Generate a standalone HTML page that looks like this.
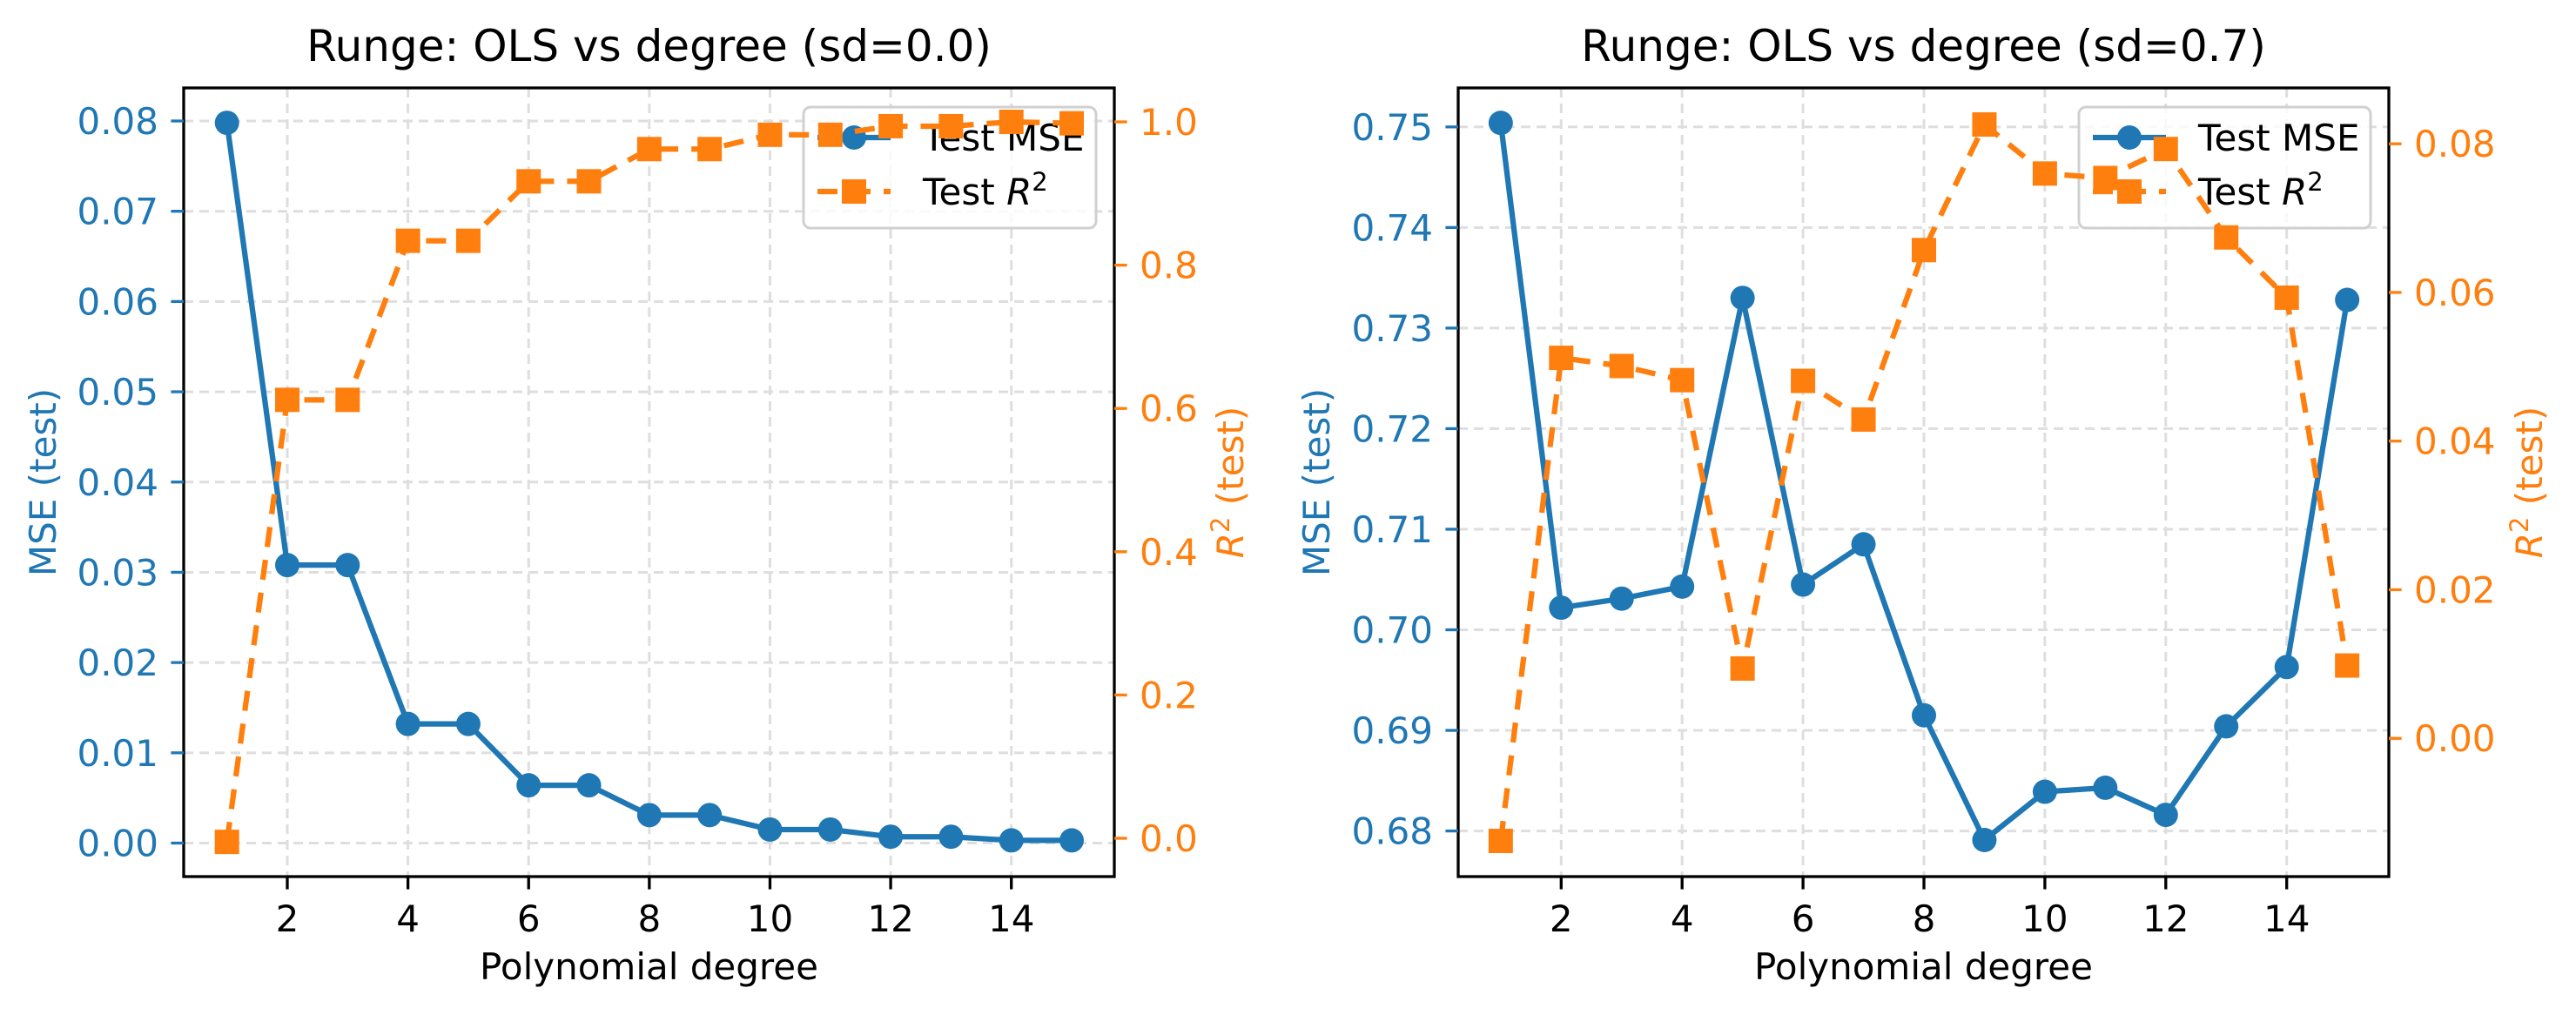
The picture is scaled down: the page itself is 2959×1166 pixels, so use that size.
<!DOCTYPE html>
<html><head><meta charset="utf-8"><style>
html,body{margin:0;padding:0;background:#fff;}
svg{display:block;font-family:"DejaVu Sans","Liberation Sans",sans-serif;}
</style></head><body>
<svg id="fig" width="2959" height="1166" viewBox="0 0 2959 1166" xmlns="http://www.w3.org/2000/svg">
<rect x="0" y="0" width="2959" height="1166" fill="#fff"/>
</svg>
<script>
const degrees = [1,2,3,4,5,6,7,8,9,10,11,12,13,14,15];
const xTicks = [2,4,6,8,10,12,14];
const mseLeft = [0.0798,0.0308,0.0308,0.0132,0.0132,0.0064,0.0064,0.0031,0.0031,0.0015,0.0015,0.0007,0.0007,0.0003,0.0003];
const r2Left = [-0.005,0.612,0.612,0.834,0.834,0.917,0.917,0.962,0.962,0.982,0.982,0.994,0.994,1.000,0.998];
const mseRight = [0.7504,0.7022,0.7031,0.7043,0.7330,0.7045,0.7085,0.6915,0.6791,0.6839,0.6843,0.6816,0.6904,0.6963,0.7328];
const r2Right = [-0.0138,0.0512,0.0501,0.0482,0.0094,0.0481,0.0429,0.0657,0.0826,0.0760,0.0754,0.0793,0.0674,0.0593,0.0098];
const mseTicksLeft = [0.00,0.01,0.02,0.03,0.04,0.05,0.06,0.07,0.08];
const r2TicksLeft = [0.0,0.2,0.4,0.6,0.8,1.0];
const mseTicksRight = [0.68,0.69,0.70,0.71,0.72,0.73,0.74,0.75];
const r2TicksRight = [0.00,0.02,0.04,0.06,0.08];

const NS = "http://www.w3.org/2000/svg";
const svg = document.getElementById('fig');
const BLUE = "#1f77b4", ORANGE = "#ff7f0e";
function mk(tag, attrs, parent){
  const e = document.createElementNS(NS, tag);
  for (const k in attrs) e.setAttribute(k, attrs[k]);
  (parent||svg).appendChild(e);
  return e;
}
function lin(d0,d1,p0,p1){ return v => p0 + (v-d0)/(d1-d0)*(p1-p0); }

function panel(cfg){
  const g = mk('g', {});
  
  
  const L=cfg.left, R=cfg.right, T=101, B=1007;
  const x = lin(2,14,cfg.x2,cfg.x14);
  const yM = lin(cfg.mA,cfg.mB,cfg.mAy,cfg.mBy);
  const yR = lin(cfg.rA,cfg.rB,cfg.rAy,cfg.rBy);
  const grid = mk('g', {}, g);
  
  
  xTicks.forEach(t=>{
    const l = mk('line',{x1:x(t),x2:x(t),y1:T,y2:B,stroke:"#dedede","stroke-width":3,"stroke-dasharray":"11 7"},grid);
    
    
  });
  cfg.mTicks.forEach(t=>{
    const l = mk('line',{x1:L,x2:R,y1:yM(t),y2:yM(t),stroke:"#dedede","stroke-width":3,"stroke-dasharray":"11 7"},grid);
    
    
  });
  const ms = mk('g', {}, g);
  
  
  mk('polyline',{points:degrees.map((d,i)=>x(d)+','+yM(cfg.mse[i])).join(' '),fill:"none",stroke:BLUE,"stroke-width":6.25,"stroke-linejoin":"round"},ms);
  degrees.forEach((d,i)=>{
    const c = mk('circle',{cx:x(d),cy:yM(cfg.mse[i]),r:14,fill:BLUE},ms);
    
    
  });
  const lg = mk('g', {}, g);
  
  
  const lx = cfg.legX;
  mk('rect',{x:lx,y:123,width:cfg.legW,height:139,rx:8,fill:"#fff","fill-opacity":0.8,stroke:"#d0d0d0","stroke-width":3},lg);
  const e1 = mk('g',{},lg);
  
  
  mk('line',{x1:lx+16,x2:lx+100,y1:158,y2:158,stroke:BLUE,"stroke-width":6.25},e1);
  mk('circle',{cx:lx+58,cy:158,r:14,fill:BLUE},e1);
  const t1 = mk('text',{x:lx+137,y:173,"font-size":42,fill:"#000"},e1); t1.textContent="Test MSE";
  const e2 = mk('g',{},lg);
  
  
  mk('line',{x1:lx+16,x2:lx+100,y1:220,y2:220,stroke:ORANGE,"stroke-width":6.25,"stroke-dasharray":"23 15"},e2);
  mk('rect',{x:lx+44,y:206,width:28,height:28,fill:ORANGE},e2);
  const t2 = mk('text',{x:lx+137,y:235,"font-size":42,fill:"#000"},e2);
  t2.innerHTML='Test <tspan font-style="italic">R</tspan><tspan font-size="29" dy="-16">2</tspan>';
  const rs = mk('g', {}, g);
  
  
  mk('polyline',{points:degrees.map((d,i)=>x(d)+','+yR(cfg.r2[i])).join(' '),fill:"none",stroke:ORANGE,"stroke-width":6.25,"stroke-dasharray":"23 15"},rs);
  degrees.forEach((d,i)=>{
    const s = mk('rect',{x:x(d)-14,y:yR(cfg.r2[i])-14,width:28,height:28,fill:ORANGE},rs);
    
    
  });
  const sp = mk('rect',{x:L,y:T,width:R-L,height:B-T,fill:"none",stroke:"#000","stroke-width":3.3},g);
  
  
  const xt = mk('g',{},g);
  
  
  xTicks.forEach(t=>{
    mk('line',{x1:x(t),x2:x(t),y1:B,y2:B+14.6,stroke:"#000","stroke-width":3.3},xt);
    const tx = mk('text',{x:x(t),y:B+63,"font-size":42,"text-anchor":"middle",fill:"#000"},xt);
    tx.textContent = t;
  });
  const xl = mk('text',{x:(L+R)/2,y:1125,"font-size":42,"text-anchor":"middle",fill:"#000"},g);
  xl.textContent = "Polynomial degree";
  
  
  const yt = mk('g',{},g);
  
  
  cfg.mTicks.forEach(t=>{
    mk('line',{x1:L-14.6,x2:L,y1:yM(t),y2:yM(t),stroke:BLUE,"stroke-width":3.3},yt);
    const tx = mk('text',{x:L-29,y:yM(t)+15,"font-size":42,"text-anchor":"end",fill:BLUE},yt);
    tx.textContent = t.toFixed(2);
  });
  const yl = mk('text',{x:0,y:0,"font-size":42,"text-anchor":"middle",fill:BLUE,transform:`translate(${cfg.mLabX},${(T+B)/2}) rotate(-90)`},g);
  yl.textContent = "MSE (test)";
  
  
  const rt = mk('g',{},g);
  
  
  cfg.rTicks.forEach(t=>{
    mk('line',{x1:R,x2:R+14.6,y1:yR(t),y2:yR(t),stroke:ORANGE,"stroke-width":3.3},rt);
    const tx = mk('text',{x:R+29,y:yR(t)+15,"font-size":42,"text-anchor":"start",fill:ORANGE},rt);
    tx.textContent = t.toFixed(cfg.rDec);
  });
  const rl = mk('text',{x:0,y:0,"font-size":42,"text-anchor":"middle",fill:ORANGE,transform:`translate(${cfg.rLabX},${(T+B)/2}) rotate(-90)`},g);
  rl.innerHTML = '<tspan font-style="italic">R</tspan><tspan font-size="29" dy="-16">2</tspan><tspan dy="16"> (test)</tspan>';
  
  
  const ti = mk('text',{x:(L+R)/2,y:70,"font-size":50,"text-anchor":"middle",fill:"#000"},g);
  ti.textContent = cfg.title;
  
  
}

panel({name:'left-panel',left:211,right:1280,x2:330,x14:1161.7,
  mA:0,mB:0.08,mAy:968.5,mBy:139,rA:0,rB:1,rAy:963,rBy:140,
  mse:mseLeft,r2:r2Left,mTicks:mseTicksLeft,rTicks:r2TicksLeft,rDec:1,
  legX:923,legW:336,mLabX:64,rLabX:1428,title:"Runge: OLS vs degree (sd=0.0)"});
panel({name:'right-panel',left:1675,right:2744,x2:1793.3,x14:2626.7,
  mA:0.68,mB:0.75,mAy:954.6,mBy:145.8,rA:0,rB:0.08,rAy:848.2,rBy:165.2,
  mse:mseRight,r2:r2Right,mTicks:mseTicksRight,rTicks:r2TicksRight,rDec:2,
  legX:2388,legW:335,mLabX:1527,rLabX:2920,title:"Runge: OLS vs degree (sd=0.7)"});
</script>
</body></html>
